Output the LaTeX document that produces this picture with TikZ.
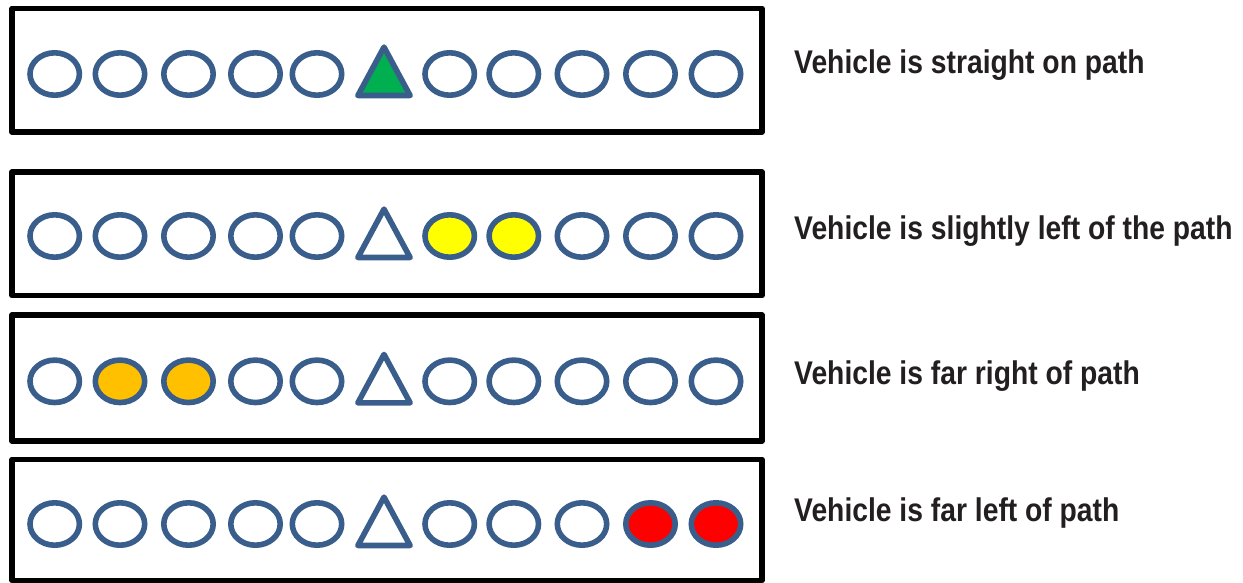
\documentclass[tikz,border=0pt]{standalone}
\usepackage{fontspec}
\usetikzlibrary{shapes.geometric}
\newfontfamily\labelfont{Liberation Sans}[FakeStretch=0.862]
\definecolor{ringblue}{RGB}{58,94,140}
\definecolor{cueGreen}{RGB}{0,176,80}
\definecolor{cueYellow}{RGB}{255,255,0}
\definecolor{cueOrange}{RGB}{255,192,0}
\definecolor{cueRed}{RGB}{255,0,0}
\definecolor{captiongray}{RGB}{35,31,32}
\tikzset{
  panel/.style={draw=black, line width=5.5pt, line join=round},
  lamp/.style={ellipse, draw=ringblue, line width=5.6pt, minimum width=49.4pt,
    minimum height=42.4pt, inner sep=0pt, fill=white},
  car/.style={draw=ringblue, line width=5.6pt, line join=round},
  caption/.style={anchor=base west, inner sep=0pt, text=captiongray,
    font=\labelfont\bfseries\fontsize{32.8}{36}\selectfont},
  % lit sensors per row
  on 2-7/.style={fill=cueYellow}, on 2-8/.style={fill=cueYellow},
  on 3-2/.style={fill=cueOrange}, on 3-3/.style={fill=cueOrange},
  on 4-10/.style={fill=cueRed},   on 4-11/.style={fill=cueRed},
  car 1/.style={fill=cueGreen},
}
\begin{document}
\begin{tikzpicture}[x=1pt,y=-1pt]
\useasboundingbox (0,0) rectangle (1243,582);

% frames around each sensor row
\draw[panel] (12,8.5)   rectangle (762,132);
\draw[panel] (12,172)   rectangle (762,295.5);
\draw[panel] (12,315)   rectangle (762,441);
\draw[panel] (12,459.5) rectangle (762,580.5);

% sensor rows: ten ellipses and the vehicle triangle
\foreach \r/\cy in {1/74, 2/236, 3/381.3, 4/524}{
  \foreach \c/\x in {1/54.7, 2/120, 3/188.5, 4/255.5, 5/317,
                     7/449.7, 8/513.8, 9/582, 10/650.5, 11/716}
    \node[lamp, on \r-\c/.try] (r\r c\c) at (\x,\cy) {};
  \coordinate (veh\r) at (384,\cy);
  \draw[car, car \r/.try, shift={(veh\r)}]
    (-26.1,21.5) -- (0,-26.9) -- (26.1,21.5) -- cycle;
}

% captions
\node[caption] (cap1) at (794,73.3)  {Vehicle is straight on path};
\node[caption] (cap2) at (794,239.3) {Vehicle is slightly left of the path};
\node[caption] (cap3) at (794,384.3) {Vehicle is far right of path};
\node[caption] (cap4) at (794,521.7) {Vehicle is far left of path};
\end{tikzpicture}
\end{document}
